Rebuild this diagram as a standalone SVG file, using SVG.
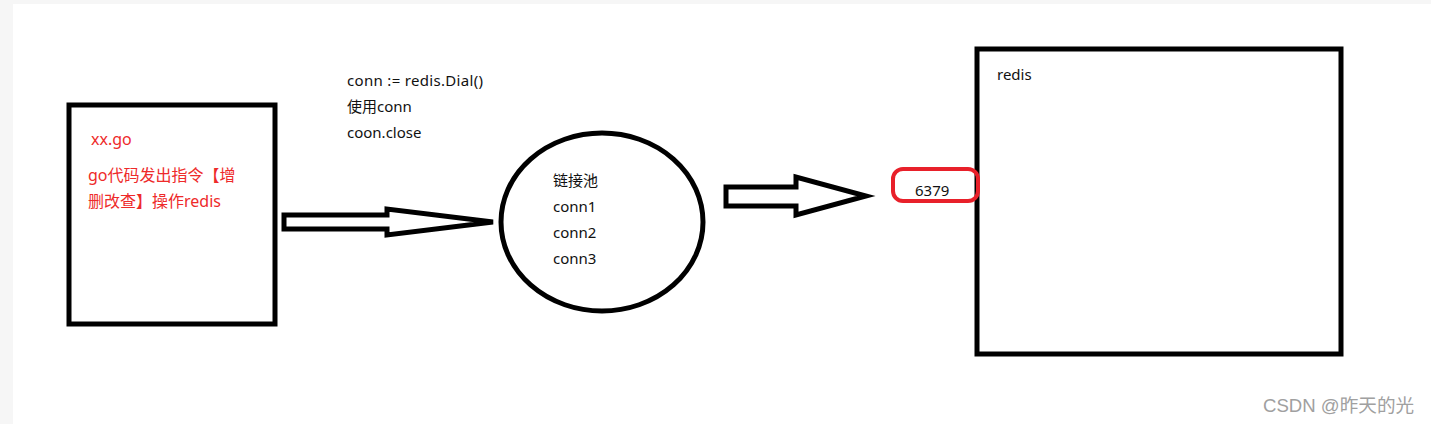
<svg xmlns="http://www.w3.org/2000/svg" width="1431" height="424" viewBox="0 0 1431 424">
<style>
.bg{fill:#f6f6f6}
.page{fill:#ffffff}
.box{fill:none;stroke:#000;stroke-width:5}
.arrow{fill:none;stroke:#000;stroke-width:5;stroke-linejoin:miter}
.t{font-family:"Noto Sans","Noto Sans CJK SC",sans-serif;font-size:15px;fill:#111}
.red{fill:#ee2a2a;font-size:16px}
.port{fill:none;stroke:#e8202a;stroke-width:4}
.wm{font-family:"Liberation Sans","Noto Sans CJK SC",sans-serif;font-size:18.6px;fill:#a0a0a0}
</style>
<rect class="bg" x="0" y="0" width="1431" height="424"/>
<rect class="page" x="13" y="4" width="1418" height="420"/>
<g id="client">
<rect class="box" x="69" y="105" width="206" height="219"/>
<text class="t red" x="91" y="145">xx.go</text>
<text class="t red" x="88" y="181">go代码发出指令【增</text>
<text class="t red" x="88" y="207">删改查】操作redis</text>
</g>
<g id="code-note">
<text class="t" x="347" y="86" textLength="136">conn := redis.Dial()</text>
<text class="t" x="347" y="112">使用conn</text>
<text class="t" x="347" y="138">coon.close</text>
</g>
<g id="pool">
<ellipse class="box" cx="602" cy="222" rx="101" ry="89"/>
<text class="t" x="553" y="186">链接池</text>
<text class="t" x="553" y="212">conn1</text>
<text class="t" x="553" y="238">conn2</text>
<text class="t" x="553" y="264">conn3</text>
</g>
<g id="redis">
<rect class="box" x="977" y="49" width="364" height="305"/>
<text class="t" x="997" y="80">redis</text>
</g>
<g id="port">
<rect class="port" x="893" y="169" width="85" height="32" rx="10" ry="10"/>
<text class="t" x="915" y="196">6379</text>
</g>
<g id="connectors">
<path class="arrow" d="M284,215 L387,215 L387,209 L493,222 L387,235 L387,229 L284,229 Z"/>
<path class="arrow" d="M726,187 L796,187 L796,177 L866,196 L796,215 L796,206 L726,206 Z"/>
</g>
<text class="wm" x="1263" y="412">CSDN @昨天的光</text>
</svg>
